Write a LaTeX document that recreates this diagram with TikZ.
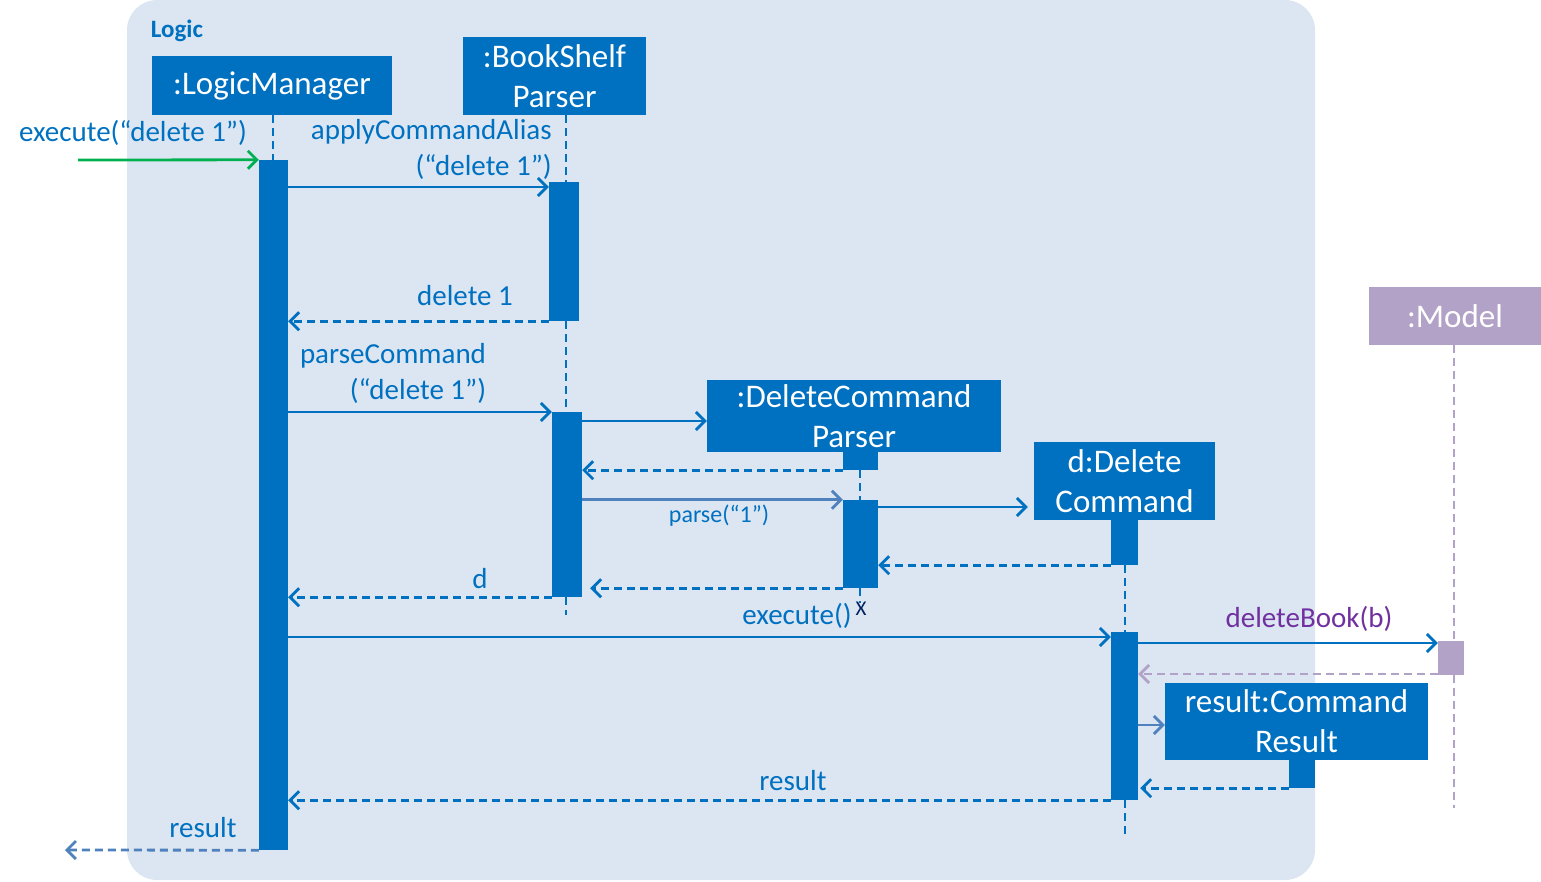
\documentclass[tikz,border=0pt]{standalone}
\usepackage{fontspec}
\setmainfont{Carlito}
\usetikzlibrary{arrows.meta,calc}
\definecolor{mblue}{HTML}{0070C0}
\definecolor{bgc}{HTML}{DCE6F2}
\definecolor{mgreen}{HTML}{00B050}
\definecolor{sblue}{HTML}{4F81BD}
\definecolor{mpurple}{HTML}{7030A0}
\definecolor{mlilac}{HTML}{B3A2C7}
\definecolor{navy}{HTML}{002060}
\tikzset{
 obj/.style={fill=mblue, draw=none, text=white, inner sep=0, align=center, font=\fontsize{33}{40}\selectfont},
 modelbox/.style={obj, fill=mlilac},
 act/.style={fill=mblue, draw=none, inner sep=0},
 life/.style={draw=mblue, line width=2.8pt, dash pattern=on 8pt off 5pt},
 msg/.style={draw=mblue, line width=2.8pt, -{Straight Barb[length=9pt,width=18pt,line width=2.8pt]}},
 ret/.style={msg, dash pattern=on 8pt off 5pt},
 lbl/.style={text=mblue, font=\fontsize{29}{35}\selectfont, inner sep=0},
}
\newcommand{\rbox}[7]{\node[#6, minimum width={(#4)-(#2)}, minimum height={(#5)-(#3)}] (#1) at ({((#2)+(#4))/2},{((#3)+(#5))/2}) {#7};}
\begin{document}
\begin{tikzpicture}[x=1pt,y=-1pt]
\useasboundingbox (0,0) rectangle (1541,881);
\fill[bgc, rounded corners=30pt] (127,0) rectangle (1315,880);
\node[text=mblue, font=\fontsize{25}{30}\selectfont\bfseries, inner sep=0] (logicLbl) at (177,31) {Logic};

% objects
\rbox{lm}{152}{56}{392}{115}{obj}{\raisebox{-3pt}{:LogicManager}}
\rbox{bs}{463}{37}{646}{115}{obj}{:BookShelf\\Parser}
\rbox{mdl}{1369}{287}{1541}{345}{modelbox}{\raisebox{-1pt}{:Model}}

% lifeline ends
\coordinate (bsEnd) at (566,615);
\coordinate (dcpEnd) at (860,603);
\coordinate (dcEnd) at (1125,838);
\coordinate (mdlEnd) at (1454,808);

% activations
\rbox{lmA}{259}{160}{288}{850}{act}{}
\rbox{bsA1}{549}{182}{579}{321}{act}{}
\rbox{bsA2}{552}{412}{582}{597}{act}{}
\rbox{dcpA0}{843}{452}{878}{470}{act}{}
\rbox{dcpA}{843}{500}{878}{588}{act}{}
\rbox{dcA0}{1111}{520}{1138}{565}{act}{}
\rbox{dcA}{1111}{632}{1138}{800}{act}{}
\rbox{crA0}{1289}{760}{1315}{788}{act}{}
\rbox{mdlA}{1438}{641}{1464}{675}{act, fill=mlilac}{}

% lifelines
\draw[life] (lm.south -| 273,0) -- (lmA.north -| 273,0);
\draw[life] (bsEnd |- bs.south) -- (bsEnd |- bsA1.north);
\draw[life] (bsEnd |- bsA1.south) -- (bsEnd |- bsA2.north);
\draw[life] (bsEnd |- bsA2.south) -- (bsEnd);
\draw[life] (dcpEnd |- dcpA0.south) -- (dcpEnd |- dcpA.north);
\draw[life] (dcpEnd |- dcpA.south) -- (dcpEnd);
\draw[life] (dcEnd |- dcA0.south) -- (dcEnd |- dcA.north);
\draw[life] (dcEnd |- dcA.south) -- (dcEnd);
\draw[life, draw=mlilac] (mdlEnd |- mdl.south) -- (mdlEnd |- mdlA.north);
\draw[life, draw=mlilac] (mdlEnd |- mdlA.south) -- (mdlEnd);
\node[text=navy, font=\fontsize{21}{24}\selectfont, inner sep=0] (xmark) at (861,609) {X};

% objects created later
\rbox{dcp}{707}{380}{1001}{452}{obj}{:DeleteCommand\\Parser}
\rbox{dc}{1034}{442}{1215}{520}{obj}{d:Delete\\Command}
\rbox{cr}{1165}{683}{1428}{760}{obj}{result:Command\\Result}

% messages
\coordinate (start) at (78,160);
\draw[msg, draw=mgreen] (start) -- (lmA.north west);
\node[lbl] (l1) at (133,133) {execute(“delete 1”)};

\draw[msg] (lmA.east |- 0,187) -- (bsA1.west |- 0,187);
\node[lbl, anchor=east] (l2a) at (552,132) {applyCommandAlias};
\node[lbl, anchor=east] (l2b) at (552,167) {(“delete 1”)};

\draw[ret] (bsA1.south west) -- (lmA.east |- bsA1.south);
\node[lbl] (l3) at (465,296) {delete 1};

\draw[msg] (lmA.east |- 0,412) -- (bsA2.west |- 0,412);
\node[lbl] (l4a) at (393,356) {parseCommand};
\node[lbl] (l4b) at (418,391) {(“delete 1”)};

\draw[msg] (bsA2.east |- 0,421) -- (dcp.west |- 0,421);
\draw[ret] (dcpA0.south west) -- (bsA2.east |- dcpA0.south);

\draw[msg, draw=sblue] (bsA2.east |- dcpA.north) -- (dcpA.north west);
\node[lbl, font=\fontsize{24}{28}\selectfont] (l7) at (719,516) {parse(“1”)};

\draw[msg] (dcpA.east |- 0,507) -- ([xshift=-6pt]dc.west |- 0,507);
\draw[ret] (dcA0.south west) -- (dcpA.east |- dcA0.south);
\draw[ret] (dcpA.south west) -- ([xshift=8pt]bsA2.east |- dcpA.south);
\draw[ret] (bsA2.south west) -- (lmA.east |- bsA2.south);
\node[lbl] (l11) at (480,579) {d};

\draw[msg] (lmA.east |- 0,637) -- (dcA.west |- 0,637);
\node[lbl] (l12) at (797,616) {execute()};

\draw[msg] (dcA.east |- 0,643) -- (mdlA.west |- 0,643);
\node[lbl, text=mpurple] (l13) at (1309,619) {deleteBook(b)};
\draw[ret, draw=mlilac] (mdlA.west |- 0,674) -- (dcA.east |- 0,674);

\draw[msg, draw=sblue] (dcA.east |- 0,725) -- (cr.west |- 0,725);
\draw[ret] (crA0.south west) -- ([xshift=2pt]dcA.east |- crA0.south);

\draw[ret] (dcA.south west) -- (lmA.east |- dcA.south);
\node[lbl] (l17) at (793,781) {result};

\coordinate (finish) at (65,850);
\draw[ret, draw=sblue] (lmA.south west) -- (finish);
\node[lbl] (l18) at (203,828) {result};
\end{tikzpicture}
\end{document}
